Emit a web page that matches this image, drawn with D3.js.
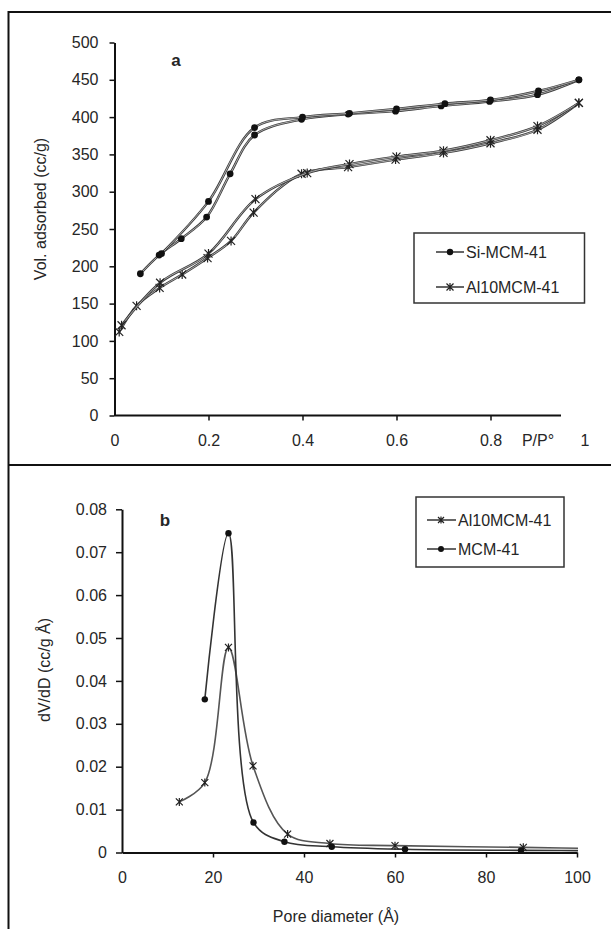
<!DOCTYPE html>
<html>
<head>
<meta charset="utf-8">
<script src="https://cdn.jsdelivr.net/npm/d3@7"></script>
<style>
  html, body { margin: 0; padding: 0; background: #fff; }
  svg { display: block; }
  text { font-family: Arial, "Liberation Sans", sans-serif; fill: #262626; }
</style>
</head>
<body>
<svg id="chart" width="611" height="929"></svg>
<script>
// ---------- Panel a data (isotherms) ----------
const siAdsP = [0.055, 0.095, 0.142, 0.196, 0.246, 0.298, 0.398, 0.497, 0.598, 0.695, 0.798, 0.9, 0.988];
const siAdsV = [190, 215, 237, 266, 324, 376, 397, 404, 408, 415, 421, 430, 450];
const siDesP = [0.988, 0.902, 0.8, 0.703, 0.6, 0.5, 0.4, 0.298, 0.2, 0.1];
const siDesV = [450, 435, 423, 418, 411, 405, 400, 386, 287, 217];

const alAdsP = [0.01, 0.047, 0.096, 0.144, 0.198, 0.248, 0.296, 0.398, 0.497, 0.598, 0.7, 0.8, 0.9, 0.988];
const alAdsV = [112, 147, 171, 189, 211, 234, 272, 324, 333, 343, 352, 365, 383, 419];
const alDesP = [0.988, 0.9, 0.8, 0.7, 0.6, 0.5, 0.41, 0.3, 0.2, 0.097, 0.015];
const alDesV = [419, 388, 369, 355, 347, 337, 325, 290, 217, 178, 121];

const aXTicks = [0, 0.2, 0.4, 0.6, 0.8, 1];
const aYTicks = [0, 50, 100, 150, 200, 250, 300, 350, 400, 450, 500];
const aLegend = ["Si-MCM-41", "Al10MCM-41"];

// ---------- Panel b data (pore size distribution) ----------
const alPoreD = [12.6, 18.2, 23.4, 28.8, 36.4, 45.7, 60, 88.2, 110];
const alPoreV = [0.0118, 0.0163, 0.0478, 0.0202, 0.0043, 0.0021, 0.0016, 0.0012, 0.0008];
const mcmPoreD = [18.2, 23.4, 28.9, 35.7, 46.1, 62.2, 87.7, 110];
const mcmPoreV = [0.0357, 0.0744, 0.0070, 0.0025, 0.00135, 0.00075, 0.0005, 0.0004];

const bXTicks = [0, 20, 40, 60, 80, 100];
const bYTicks = [0, 0.01, 0.02, 0.03, 0.04, 0.05, 0.06, 0.07, 0.08];
const bLegend = ["Al10MCM-41", "MCM-41"];

const svg = d3.select("#chart");

// frame
svg.append("rect").attr("x", 8.5).attr("y", 12).attr("width", 640).attr("height", 960)
  .attr("fill", "none").attr("stroke", "#111").attr("stroke-width", 2);
svg.append("line").attr("x1", 8.5).attr("x2", 611).attr("y1", 465).attr("y2", 465)
  .attr("stroke", "#111").attr("stroke-width", 2);

function dotMarker(g, x, y, r) {
  g.append("circle").attr("cx", x).attr("cy", y).attr("r", r).attr("fill", "#111");
}
function starMarker(g, x, y, s) {
  g.append("path")
    .attr("d", `M${x - s},${y - s}L${x + s},${y + s}M${x - s},${y + s}L${x + s},${y - s}M${x},${y - s - 0.5}L${x},${y + s + 0.5}`)
    .attr("stroke", "#222").attr("stroke-width", 1.2).attr("fill", "none");
}

// ================= Panel a =================
const xA = d3.scaleLinear().domain([0, 1]).range([114.5, 584.5]);
const yA = d3.scaleLinear().domain([0, 500]).range([415.5, 42.5]);
const gA = svg.append("g");

const yAxisA = gA.append("g").attr("transform", `translate(${xA(0)},0)`)
  .call(d3.axisLeft(yA).tickValues(aYTicks).tickSize(5).tickSizeOuter(0).tickPadding(11));
yAxisA.select(".domain").attr("stroke", "#111").attr("stroke-width", 2);
yAxisA.selectAll(".tick line").attr("stroke", "#111").attr("stroke-width", 1.5);
yAxisA.selectAll(".tick text").attr("font-size", 16).attr("fill", "#262626");

const xAxisA = gA.append("g").attr("transform", `translate(0,${yA(0)})`)
  .call(d3.axisBottom(xA).tickValues(aXTicks).tickSize(5).tickSizeOuter(0).tickPadding(14).tickFormat(d3.format("")));
xAxisA.select(".domain").remove();
xAxisA.selectAll(".tick").filter(d => d === 0 || d === 1).select("line").remove();
xAxisA.selectAll(".tick line").attr("stroke", "#111").attr("stroke-width", 1.5);
xAxisA.selectAll(".tick text").attr("font-size", 16).attr("fill", "#262626");
gA.append("line").attr("x1", xA(0)).attr("x2", xA(0.95)).attr("y1", yA(0)).attr("y2", yA(0))
  .attr("stroke", "#111").attr("stroke-width", 2);
gA.append("text").attr("x", 538).attr("y", 446).attr("text-anchor", "middle")
  .attr("font-size", 16).text("P/P°");

gA.append("text").attr("transform", `translate(46,${(yA(0) + yA(500)) / 2 - 20}) rotate(-90)`)
  .attr("text-anchor", "middle").attr("font-size", 16).attr("fill", "#333")
  .text("Vol. adsorbed (cc/g)");
gA.append("text").attr("x", 176).attr("y", 66).attr("text-anchor", "middle")
  .attr("font-size", 17).attr("font-weight", "bold").attr("fill", "#111").text("a");

const lineA = d3.line().x(d => xA(d[0])).y(d => yA(d[1])).curve(d3.curveCatmullRom.alpha(0.5));
function drawIso(P, V) {
  const pts = P.map((p, i) => [p, V[i]]);
  gA.append("path").attr("d", lineA(pts)).attr("fill", "none")
    .attr("stroke", "#3c3c3c").attr("stroke-width", 2.4);
  gA.append("path").attr("d", lineA(pts)).attr("fill", "none")
    .attr("stroke", "#c8c8c8").attr("stroke-width", 0.8);
  return pts;
}
drawIso(siAdsP, siAdsV).forEach(d => dotMarker(gA, xA(d[0]), yA(d[1]), 3.4));
drawIso(siDesP, siDesV).forEach(d => dotMarker(gA, xA(d[0]), yA(d[1]), 3.4));
drawIso(alAdsP, alAdsV).forEach(d => starMarker(gA, xA(d[0]), yA(d[1]), 4));
drawIso(alDesP, alDesV).forEach(d => starMarker(gA, xA(d[0]), yA(d[1]), 4));

// legend a
const legA = gA.append("g");
legA.append("rect").attr("x", 414).attr("y", 233).attr("width", 170.5).attr("height", 70)
  .attr("fill", "#fff").attr("stroke", "#333").attr("stroke-width", 1.5);
aLegend.forEach((name, i) => {
  const y = 252 + i * 35;
  legA.append("line").attr("x1", 436).attr("x2", 464).attr("y1", y).attr("y2", y)
    .attr("stroke", "#333").attr("stroke-width", 1.5);
  if (i === 0) dotMarker(legA, 450, y, 3.2); else starMarker(legA, 450, y, 3.5);
  legA.append("text").attr("x", 466).attr("y", y + 6).attr("font-size", 16).text(name);
});

// ================= Panel b =================
const xB = d3.scaleLinear().domain([0, 100]).range([122, 577]);
const yB = d3.scaleLinear().domain([0, 0.08]).range([852.5, 509.3]);
const gB = svg.append("g");

svg.append("clipPath").attr("id", "clipB").append("rect")
  .attr("x", xB(0)).attr("y", yB(0.08) - 20).attr("width", xB(100) - xB(0) + 1).attr("height", yB(0) - yB(0.08) + 20);

const yAxisB = gB.append("g").attr("transform", `translate(${xB(0)},0)`)
  .call(d3.axisLeft(yB).tickValues(bYTicks).tickSize(6).tickSizeOuter(0).tickPadding(9)
    .tickFormat(d => d === 0 ? "0" : d3.format(".2f")(d)));
yAxisB.select(".domain").attr("stroke", "#111").attr("stroke-width", 2);
yAxisB.selectAll(".tick line").attr("stroke", "#111").attr("stroke-width", 1.5);
yAxisB.selectAll(".tick text").attr("font-size", 16).attr("fill", "#262626");

const xAxisB = gB.append("g").attr("transform", `translate(0,${yB(0)})`)
  .call(d3.axisBottom(xB).tickValues(bXTicks).tickSize(5).tickSizeOuter(0).tickPadding(14));
xAxisB.select(".domain").attr("stroke", "#111").attr("stroke-width", 2);
xAxisB.selectAll(".tick").filter(d => d === 0).select("line").remove();
xAxisB.selectAll(".tick line").attr("stroke", "#111").attr("stroke-width", 1.5);
xAxisB.selectAll(".tick text").attr("font-size", 16).attr("fill", "#262626");

gB.append("text").attr("x", 336).attr("y", 922).attr("text-anchor", "middle")
  .attr("font-size", 16).attr("fill", "#333").text("Pore diameter (Å)");
gB.append("text").attr("transform", `translate(50,670) rotate(-90)`)
  .attr("text-anchor", "middle").attr("font-size", 16).attr("fill", "#333")
  .text("dV/dD (cc/g Å)");
gB.append("text").attr("x", 165).attr("y", 526).attr("text-anchor", "middle")
  .attr("font-size", 17).attr("font-weight", "bold").attr("fill", "#111").text("b");

const lineB = d3.line().x(d => xB(d[0])).y(d => yB(d[1])).curve(d3.curveCatmullRom.alpha(0.5));
const plotB = gB.append("g").attr("clip-path", "url(#clipB)");
const alPts = alPoreD.map((d, i) => [d, alPoreV[i]]);
const mcmPts = mcmPoreD.map((d, i) => [d, mcmPoreV[i]]);
plotB.append("path").attr("d", lineB(alPts)).attr("fill", "none").attr("stroke", "#555").attr("stroke-width", 1.6);
plotB.append("path").attr("d", lineB(mcmPts)).attr("fill", "none").attr("stroke", "#333").attr("stroke-width", 1.6);
alPts.forEach(d => starMarker(plotB, xB(d[0]), yB(d[1]), 3.5));
mcmPts.forEach(d => dotMarker(plotB, xB(d[0]), yB(d[1]), 3.2));

// legend b
const legB = gB.append("g");
legB.append("rect").attr("x", 416).attr("y", 497).attr("width", 148).attr("height", 70)
  .attr("fill", "#fff").attr("stroke", "#333").attr("stroke-width", 1.5);
bLegend.forEach((name, i) => {
  const y = 520 + i * 29;
  legB.append("line").attr("x1", 427).attr("x2", 456).attr("y1", y).attr("y2", y)
    .attr("stroke", "#333").attr("stroke-width", 1.5);
  if (i === 0) starMarker(legB, 441, y, 3); else dotMarker(legB, 441, y, 3);
  legB.append("text").attr("x", 458).attr("y", y + 6).attr("font-size", 16).text(name);
});
</script>
</body>
</html>
